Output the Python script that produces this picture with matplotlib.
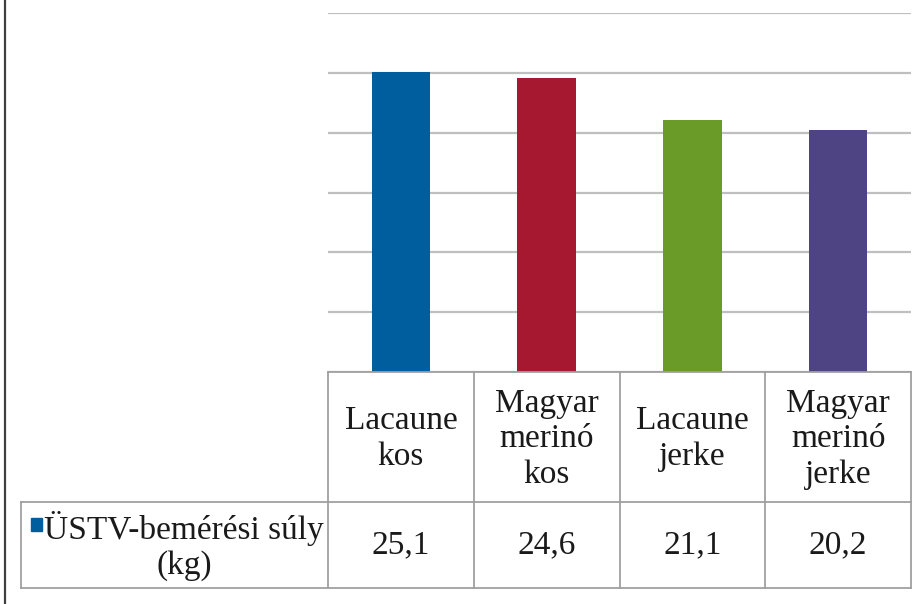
import matplotlib
matplotlib.use("Agg")
import matplotlib.pyplot as plt
from matplotlib.patches import Rectangle

categories = ["Lacaune\nkos", "Magyar\nmerinó\nkos", "Lacaune\njerke", "Magyar\nmerinó\njerke"]
values = [25.1, 24.6, 21.1, 20.2]
value_labels = ["25,1", "24,6", "21,1", "20,2"]
series_name = "ÜSTV-bemérési súly\n(kg)"
colors = ["#005E9E", "#A5182F", "#6A9A28", "#4E4383"]

W, H = 922, 604
fig = plt.figure(figsize=(W / 100, H / 100), dpi=100)
font = "Liberation Serif"
fs = 24
tcol = "#1a1a1a"

ax = fig.add_axes([328 / W, 1 - 372 / H, 583 / W, 359 / H])
x = list(range(len(values)))
ax.bar(x, values, width=0.4, color=colors, zorder=3)
ax.set_xlim(-0.5, len(values) - 0.5)
ax.set_ylim(0, 30)
ax.set_yticks([0, 5, 10, 15, 20, 25, 30])
ax.yaxis.grid(True, color="#BFBFBF", linewidth=1.6, zorder=0)
ax.tick_params(left=False, bottom=False, labelleft=False, labelbottom=False)
for s in ax.spines.values():
    s.set_visible(False)

ov = fig.add_axes([0, 0, 1, 1], zorder=5)
ov.set_xlim(0, W)
ov.set_ylim(H, 0)
ov.axis("off")
ov.patch.set_alpha(0)

fig.canvas.draw()
def px(xd):
    return ax.transData.transform((xd, 0))[0]

bounds = [px(i - 0.5) for i in range(len(values) + 1)]
centers = [px(i) for i in x]

lc = "#A0A0A0"
lw = 1.3
y_top, y_mid, y_bot = 372, 502, 588
x_leg = 21
# outer left frame line
ov.plot([5, 5], [0, H], color="#404040", lw=1.6, solid_capstyle="butt")
# table lines
ov.plot([bounds[0], bounds[-1]], [y_top, y_top], color=lc, lw=lw)
ov.plot([x_leg, bounds[-1]], [y_mid, y_mid], color=lc, lw=lw)
ov.plot([x_leg, bounds[-1]], [y_bot, y_bot], color=lc, lw=lw)
ov.plot([x_leg, x_leg], [y_mid, y_bot], color=lc, lw=lw)
for b in bounds:
    ov.plot([b, b], [y_top, y_bot], color=lc, lw=lw)

for c, cat, lab in zip(centers, categories, value_labels):
    ov.text(c, (y_top + y_mid) / 2 + 2, cat, ha="center", va="center",
            family=font, fontsize=fs, color=tcol, linespacing=1.22)
    ov.text(c, (y_mid + y_bot) / 2, lab, ha="center", va="center",
            family=font, fontsize=fs, color=tcol)

ov.text(184, (y_mid + y_bot) / 2 + 1, series_name, ha="center", va="center",
        family=font, fontsize=fs, color=tcol, linespacing=1.22,
        multialignment="center")
ov.add_patch(Rectangle((31, 518), 11, 13, color=colors[0]))

fig.savefig("out.png", dpi=100)
